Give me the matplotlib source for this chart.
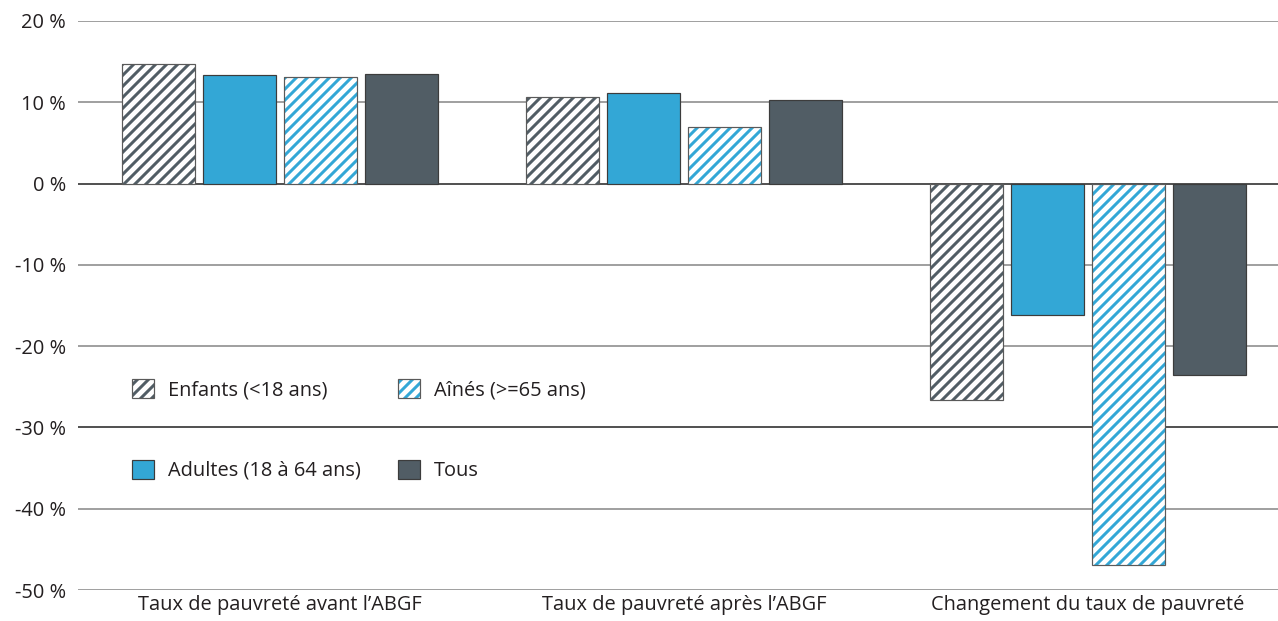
import matplotlib
matplotlib.use('Agg')
import matplotlib.pyplot as plt
import numpy as np
from matplotlib.patches import Patch

DPI = 132
W, H = 1278, 621


def px(v):
    # pixels -> points at the figure dpi
    return v * 72.0 / DPI


categories = ["Taux de pauvreté avant l’ABGF",
              "Taux de pauvreté après l’ABGF",
              "Changement du taux de pauvreté"]
series = ["Enfants (<18 ans)", "Adultes (18 à 64 ans)", "Aînés (>=65 ans)", "Tous"]
enfants = [14.65, 10.7, -26.6]
adultes = [13.3, 11.1, -16.2]
aines = [13.1, 7.0, -46.9]
tous = [13.5, 10.3, -23.5]
yticks = [20, 10, 0, -10, -20, -30, -40, -50]

blue = '#33a7d6'
dark = '#515d65'
outline = '#3c3c3c'
txt = '#231f20'
HATCH = '////'

plt.rcParams['font.family'] = ['Open Sans', 'DejaVu Sans']
plt.rcParams['hatch.linewidth'] = px(3.0)

fig = plt.figure(figsize=(W / DPI, H / DPI), dpi=DPI)
ax = fig.add_axes([78 / W, (H - 590) / H, (1290 - 78) / W, (590 - 21) / H])

x = np.arange(len(categories))
bw = 0.18
offs = [-0.3, -0.1, 0.1, 0.3]
lw = px(1.2)

# hatched bars: stripes first, thin outline on top
for vals, c, o in [(enfants, dark, offs[0]), (aines, blue, offs[2])]:
    ax.bar(x + o, vals, bw, color='white', edgecolor=c, hatch=HATCH, linewidth=0, zorder=2)
    ax.bar(x + o, vals, bw, fill=False, edgecolor='#5a5a5a', linewidth=lw, zorder=3)
for vals, c, o in [(adultes, blue, offs[1]), (tous, dark, offs[3])]:
    ax.bar(x + o, vals, bw, color=c, edgecolor=outline, linewidth=lw, zorder=3)

ax.set_xlim(-0.5, 2.5)
ax.set_ylim(-50, 20)
ax.set_yticks(yticks)
ax.set_yticklabels([f'{v} %' for v in yticks])
ax.set_xticks(x)
ax.set_xticklabels(categories)
ax.tick_params(axis='both', length=0, labelsize=px(20), labelcolor=txt)
ax.tick_params(axis='y', pad=px(12))
ax.tick_params(axis='x', pad=px(5))

ax.set_axisbelow(True)
ax.yaxis.grid(True, color='#8a8a8a', linewidth=px(1.6))
for v, gl in zip(yticks, ax.get_ygridlines()):
    if v in (0, -30):
        gl.set_color('#2a2a2a')
for s in ax.spines.values():
    s.set_visible(False)

handles = [
    (Patch(facecolor='white', edgecolor=dark, hatch=HATCH, linewidth=0),
     Patch(facecolor='none', edgecolor='#5a5a5a', linewidth=lw)),
    Patch(facecolor=blue, edgecolor=outline, linewidth=lw),
    (Patch(facecolor='white', edgecolor=blue, hatch=HATCH, linewidth=0),
     Patch(facecolor='none', edgecolor='#5a5a5a', linewidth=lw)),
    Patch(facecolor=dark, edgecolor=outline, linewidth=lw),
]
ax.legend(handles, series, ncol=2, frameon=False, loc='center left',
          bbox_to_anchor=((132 - 78) / 1212, 160 / 569),
          fontsize=px(20), labelcolor=txt, borderpad=0, borderaxespad=0,
          handlelength=1.1, handleheight=1.1, handletextpad=0.7,
          labelspacing=2.95, columnspacing=1.85)

fig.savefig('out.png', dpi=DPI)
